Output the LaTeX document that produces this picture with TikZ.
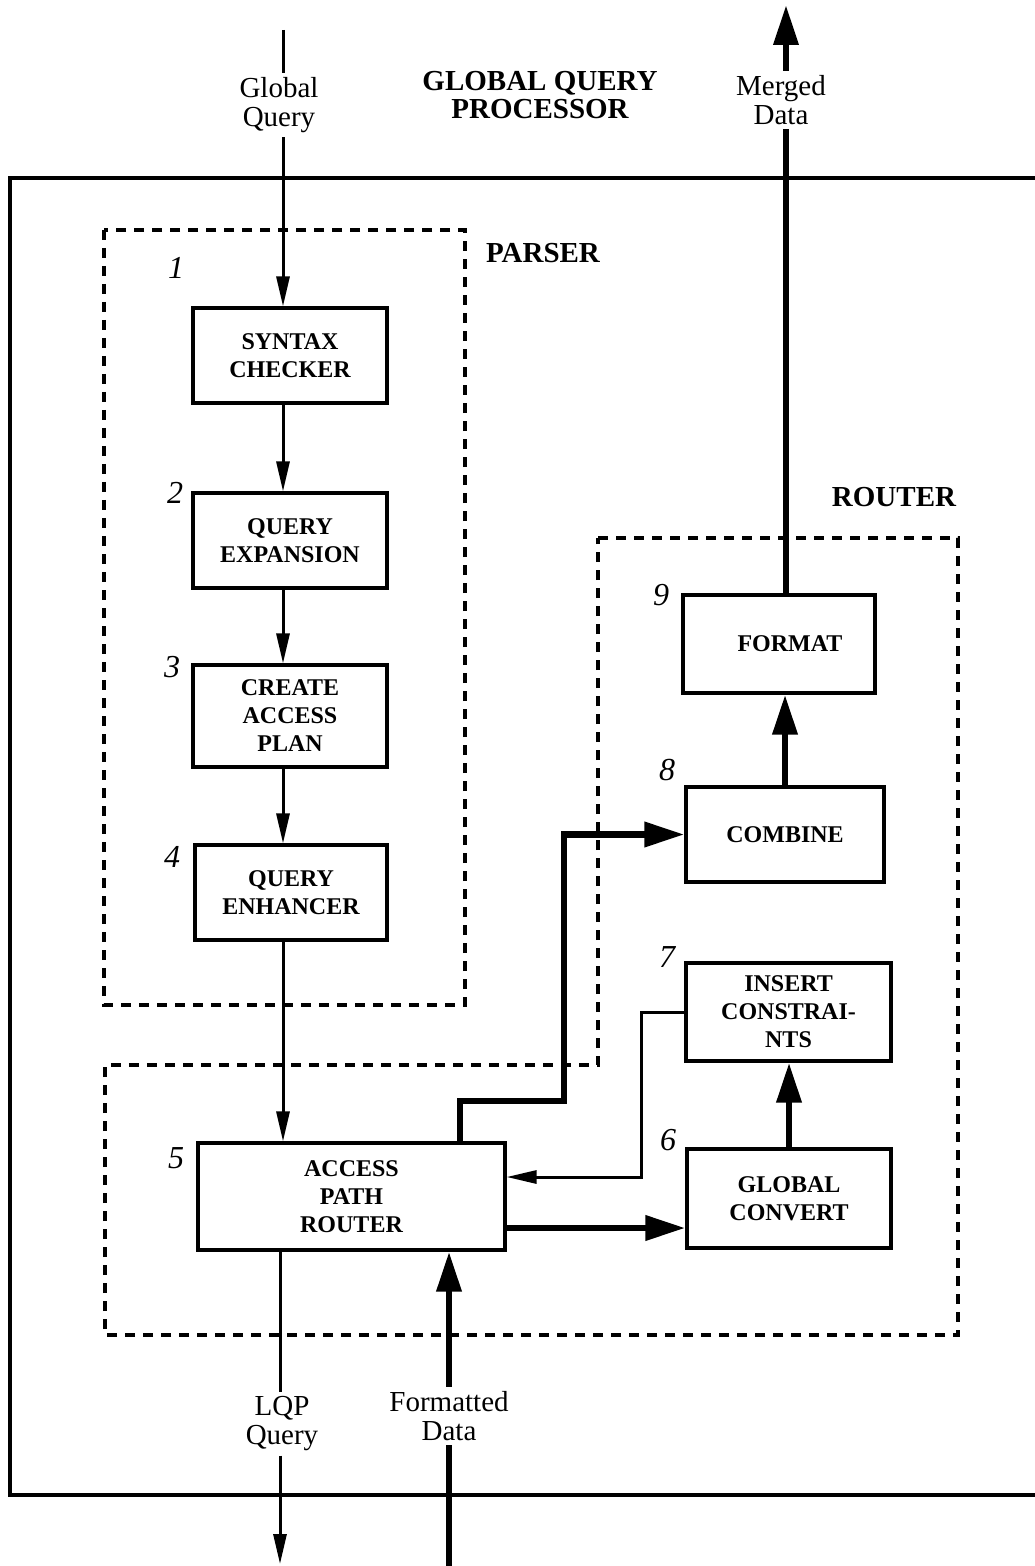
\documentclass[tikz,border=0pt]{standalone}
\usepackage{fontspec}
\setmainfont{Liberation Serif}
\usetikzlibrary{arrows.meta}
\begin{document}
\begin{tikzpicture}[x=0.5pt,y=-0.5pt,
  box/.style={draw, line width=1.6pt, align=center, inner sep=0pt,
    font=\fontsize{12}{14}\selectfont\bfseries},
  lbl/.style={align=center, inner sep=2pt, font=\fontsize{14.5}{14.5}\selectfont},
  grp/.style={font=\fontsize{14.5}{14}\selectfont\bfseries, align=center},
  num/.style={font=\fontsize{16}{16}\selectfont\itshape, inner sep=0pt},
  thinarr/.style={line width=1.5pt, -{Triangle[length=15pt,width=6.5pt]}},
  thinline/.style={line width=1.5pt},
  thickline/.style={line width=3.4pt},
  thickarr/.style={line width=3.4pt, -{Triangle[length=20pt,width=12pt]}},
  dashbox/.style={line width=2pt, dash pattern=on 5pt off 4pt},
  frame/.style={line width=2.3pt}]
\useasboundingbox (0,0) rectangle (1034,1566);

% outer processor frame, open to the right
\draw[frame] (1045,178) -- (10,178) -- (10,1495) -- (1045,1495);

% group outlines
\draw[dashbox] (104,230) rectangle (465,1005);
\draw[dashbox] (598,538) -- (958,538) -- (958,1335) -- (105,1335) -- (105,1065) -- (598,1065) -- cycle;

% headings
\node[grp] (title) at (540,95) {GLOBAL QUERY\\PROCESSOR};
\node[grp] (parser) at (543,253) {PARSER};
\node[grp] (router) at (894,497) {ROUTER};

% processing steps
\node[box, minimum width=97pt, minimum height=47.5pt] (syn) at (290,355.5) {SYNTAX\\CHECKER};
\node[box, minimum width=97pt, minimum height=47.5pt] (qex) at (290,540.5) {QUERY\\EXPANSION};
\node[box, minimum width=97pt, minimum height=51pt] (cap) at (290,716) {CREATE\\ACCESS\\PLAN};
\node[box, minimum width=96pt, minimum height=47.5pt] (qen) at (291,892.5) {QUERY\\ENHANCER};
\node[box, minimum width=153.5pt, minimum height=53.5pt] (apr) at (351.5,1196.5) {ACCESS\\PATH\\ROUTER};
\node[box, minimum width=102pt, minimum height=49.5pt] (gcv) at (789,1198.5) {GLOBAL\\CONVERT};
\node[box, minimum width=102.5pt, minimum height=49pt] (ins) at (788.5,1012) {INSERT\\CONSTRAI-\\NTS};
\node[box, minimum width=99pt, minimum height=47.5pt] (cmb) at (785,834.5) {COMBINE};
\node[box, minimum width=96pt, minimum height=49pt] (fmt) at (779,644) {\hspace*{11pt}FORMAT};

% step numbers
\node[num] (n1) at (176,268) {1};
\node[num] (n2) at (175,493) {2};
\node[num] (n3) at (172,667) {3};
\node[num] (n4) at (172,857) {4};
\node[num] (n5) at (176,1158) {5};
\node[num] (n6) at (668,1140) {6};
\node[num] (n7) at (667,957) {7};
\node[num] (n8) at (667,770) {8};
\node[num] (n9) at (661,595) {9};

% external flow labels
\node[lbl] (gq) at (279,105) {Global\\Query};
\node[lbl] (md) at (781,100) {Merged\\Data};
\node[lbl] (lqp) at (282,1424) {LQP\\Query};
\node[lbl] (fd) at (449,1416) {Formatted\\Data};

% reference coordinates for the routing
\coordinate (spine) at (283,30);
\coordinate (mdtop) at (786,5);
\coordinate (lqpx) at (280,1564);
\coordinate (fdx) at (449,1570);
\coordinate (j1) at (460,1101);
\coordinate (j2) at (564,1101);
\coordinate (k1) at (641,1177);
\coordinate (m) at (600,1228);

% incoming global query and parser chain
\draw[thinline] (spine) -- (spine |- gq.north);
\draw[thinarr] (spine |- gq.south) -- (spine |- syn.north);
\draw[thinarr] (syn.south -| spine) -- (qex.north -| spine);
\draw[thinarr] (qex.south -| spine) -- (cap.north -| spine);
\draw[thinarr] (cap.south -| spine) -- (qen.north -| spine);
\draw[thinarr] (qen.south -| spine) -- (apr.north -| spine);

% local query out, formatted data in
\draw[thinline] (apr.south -| lqpx) -- (lqpx |- lqp.north);
\draw[thinarr] (lqpx |- lqp.south) -- (lqpx);
\draw[thickline] (fdx) -- (fdx |- fd.south);
\draw[thickarr] (fdx |- fd.north) -- (fdx |- apr.south);

% router internal flows
\draw[thickarr] (apr.north -| j1) -- (j1) -- (j2) |- (cmb.west);
\draw[thinarr] (ins.west) -| (k1) -- (k1 -| apr.east);
\draw[thickarr] (apr.east |- m) -- (gcv.west |- m);
\draw[thickarr] (gcv.north) -- (gcv.north |- ins.south);
\draw[thickarr] (cmb.north) -- (cmb.north |- fmt.south);

% merged data out
\draw[thickline] (fmt.north -| mdtop) -- (mdtop |- md.south);
\draw[thickarr] (mdtop |- md.north) -- (mdtop);
\end{tikzpicture}
\end{document}
